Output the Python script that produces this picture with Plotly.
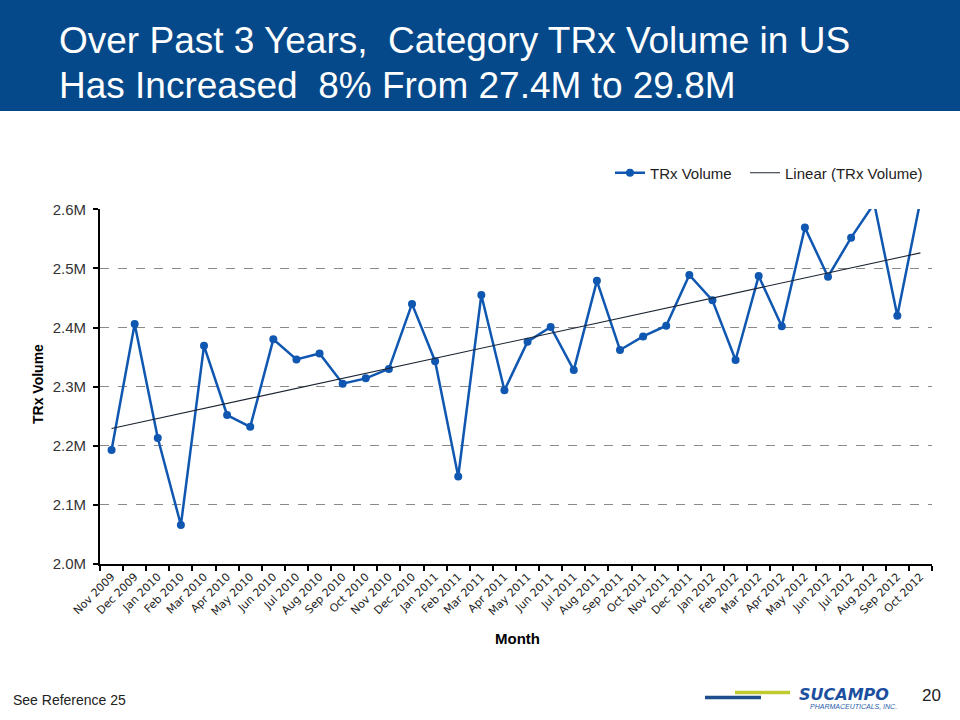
import numpy as np
import plotly.graph_objects as go

# ---------------- data ----------------
months = [
    "Nov 2009", "Dec 2009", "Jan 2010", "Feb 2010", "Mar 2010", "Apr 2010",
    "May 2010", "Jun 2010", "Jul 2010", "Aug 2010", "Sep 2010", "Oct 2010",
    "Nov 2010", "Dec 2010", "Jan 2011", "Feb 2011", "Mar 2011", "Apr 2011",
    "May 2011", "Jun 2011", "Jul 2011", "Aug 2011", "Sep 2011", "Oct 2011",
    "Nov 2011", "Dec 2011", "Jan 2012", "Feb 2012", "Mar 2012", "Apr 2012",
    "May 2012", "Jun 2012", "Jul 2012", "Aug 2012", "Sep 2012", "Oct 2012",
]
trx_volume_m = [
    2.193, 2.406, 2.213, 2.066, 2.369, 2.252,
    2.232, 2.380, 2.346, 2.356, 2.305, 2.314,
    2.330, 2.440, 2.343, 2.148, 2.455, 2.294,
    2.376, 2.401, 2.328, 2.479, 2.362, 2.385,
    2.403, 2.489, 2.446, 2.345, 2.487, 2.402,
    2.569, 2.486, 2.552, 2.610, 2.420, 2.615,
]
y_ticks = [2.0, 2.1, 2.2, 2.3, 2.4, 2.5, 2.6]

title_line1 = "Over Past 3 Years,\u00a0 Category TRx Volume in US"
title_line2 = "Has Increased\u00a0 8% From 27.4M to 29.8M"

# linear trend (least squares, as Excel's "Linear" trendline)
idx = np.arange(len(trx_volume_m))
slope, intercept = np.polyfit(idx, trx_volume_m, 1)
trend = (slope * idx + intercept).tolist()

# ---------------- layout helpers (pixel -> paper) ----------------
W, H = 960, 720
L, R, T, B = 100, 932, 209, 564
PW, PH = R - L, B - T


def px(x):
    return (x - L) / PW


def py(y):
    return (B - y) / PH


BLUE = "#0F57B0"
FONT = "Liberation Sans, Arial, sans-serif"

fig = go.Figure()
fig.add_trace(go.Scatter(
    x=months, y=trx_volume_m, mode="lines+markers",
    name="TRx Volume\u00a0\u00a0",
    line=dict(color=BLUE, width=2.5),
    marker=dict(color=BLUE, size=8),
    cliponaxis=True,
))
fig.add_trace(go.Scatter(
    x=months, y=trend, mode="lines", name="Linear (TRx Volume)",
    line=dict(color="#1c2433", width=1.1),
))

fig.update_layout(
    width=W, height=H,
    margin=dict(l=L, r=W - R, t=T, b=H - B, pad=0),
    paper_bgcolor="white", plot_bgcolor="white",
    font=dict(family=FONT, color="#222222", size=13),
    showlegend=True,
    legend=dict(
        orientation="h", x=px(928), xanchor="right", y=py(173), yanchor="middle",
        font=dict(family=FONT, size=15, color="#222222"),
        bgcolor="rgba(0,0,0,0)", itemwidth=30, tracegroupgap=0,
    ),
)

fig.update_xaxes(
    type="category", categoryorder="array", categoryarray=months,
    range=[-0.5, len(months) - 0.5],
    showgrid=False, zeroline=False,
    showline=True, linecolor="black", linewidth=2,
    ticks="outside", tickson="boundaries", ticklen=5, tickwidth=1.5,
    tickcolor="black",
    tickangle=-45,
    tickfont=dict(family="DejaVu Sans, Verdana, sans-serif", size=11,
                  color="#222222"),
)

fig.update_yaxes(
    range=[2.0, 2.6005], tickvals=y_ticks,
    ticktext=[f"{v:.1f}M" for v in y_ticks],
    showgrid=True, gridcolor="#8a8a8a", gridwidth=1, griddash="dash",
    zeroline=False,
    showline=True, linecolor="black", linewidth=2,
    ticks="outside", ticklen=5, tickwidth=1.5, tickcolor="black",
    ticklabelstandoff=4,
    tickfont=dict(family=FONT, size=15, color="#333333"),
)

shapes = [
    # title banner
    dict(type="rect", xref="paper", yref="paper",
         x0=px(0), x1=px(W), y0=py(0), y1=py(111),
         fillcolor="#05498A", line=dict(width=0), layer="below"),
    # logo bars
    dict(type="line", xref="paper", yref="paper",
         x0=px(705), x1=px(761), y0=py(697.5), y1=py(697.5),
         line=dict(color="#1F4E8C", width=3.5)),
    dict(type="line", xref="paper", yref="paper",
         x0=px(735), x1=px(790), y0=py(692.5), y1=py(692.5),
         line=dict(color="#BFCB2E", width=3.5)),
]

annotations = [
    dict(text=title_line1, xref="paper", yref="paper",
         x=px(57), y=py(40), xanchor="left", yanchor="middle", align="left",
         showarrow=False,
         font=dict(family=FONT, size=37, color="white")),
    dict(text=title_line2, xref="paper", yref="paper",
         x=px(57), y=py(85), xanchor="left", yanchor="middle", align="left",
         showarrow=False,
         font=dict(family=FONT, size=37, color="white")),
    dict(text="<b>TRx Volume</b>", xref="paper", yref="paper",
         x=px(38), y=py(384), xanchor="center", yanchor="middle",
         textangle=-90, showarrow=False,
         font=dict(family=FONT, size=14, color="black")),
    dict(text="<b>Month</b>", xref="paper", yref="paper",
         x=px(517), y=py(638), xanchor="center", yanchor="middle",
         showarrow=False,
         font=dict(family=FONT, size=15, color="black")),
    dict(text="See Reference 25", xref="paper", yref="paper",
         x=px(11), y=py(700), xanchor="left", yanchor="middle",
         showarrow=False,
         font=dict(family=FONT, size=14, color="#222222")),
    dict(text="20", xref="paper", yref="paper",
         x=px(931), y=py(695), xanchor="center", yanchor="middle",
         showarrow=False,
         font=dict(family=FONT, size=17, color="#222222")),
    dict(text="SUCAMPO", xref="paper", yref="paper",
         x=px(844), y=py(694), xanchor="center", yanchor="middle",
         showarrow=False,
         font=dict(family="DejaVu Sans, sans-serif", size=16,
                   color="#1D4FA0", weight="bold", style="italic")),
    dict(text="PHARMACEUTICALS, INC.", xref="paper", yref="paper",
         x=px(853), y=py(706), xanchor="center", yanchor="middle",
         showarrow=False,
         font=dict(family=FONT, size=7, color="#2A5CA8", style="italic")),
]

fig.update_layout(shapes=shapes, annotations=annotations)

fig.write_html("out.html", config={"displayModeBar": False},
               post_script="document.body.style.margin='0px';")
